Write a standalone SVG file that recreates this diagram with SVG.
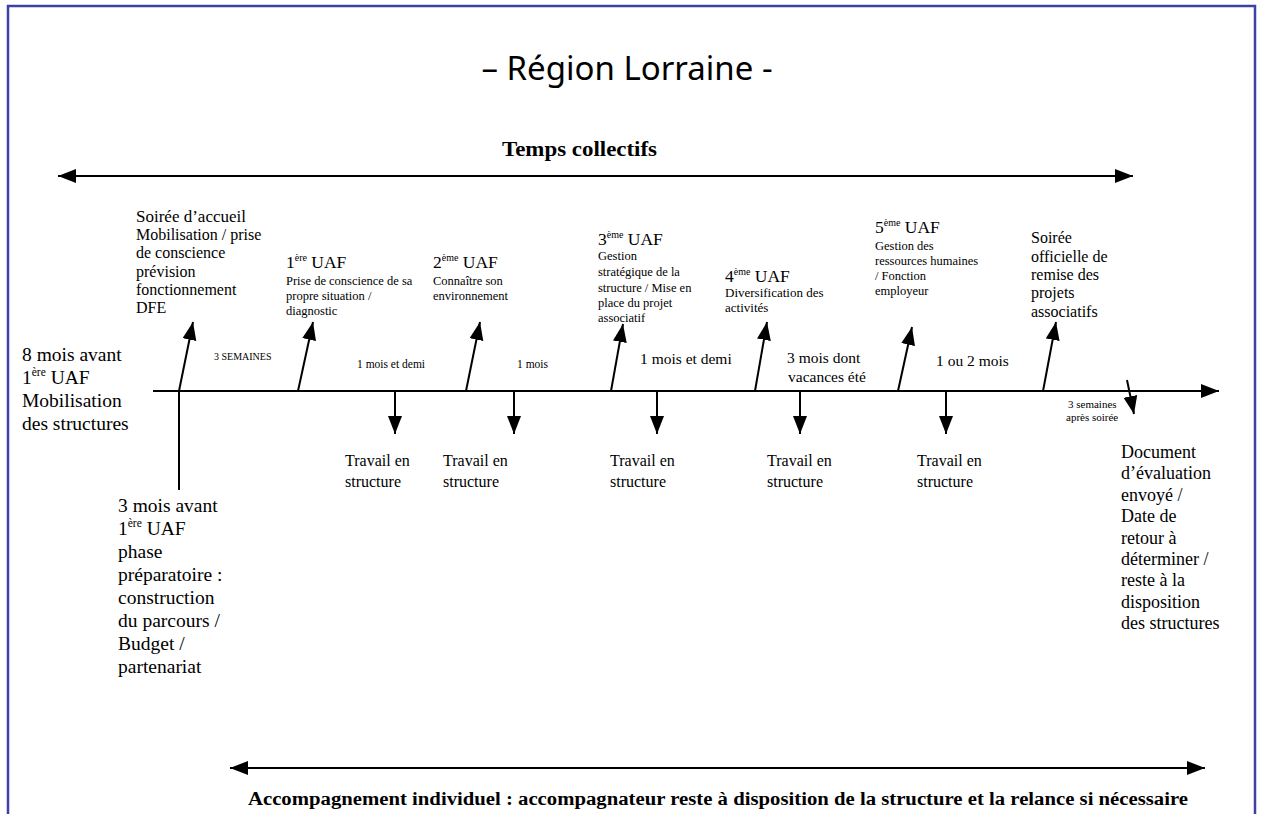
<svg xmlns="http://www.w3.org/2000/svg" width="1261" height="814" viewBox="0 0 1261 814">
<style>
text{font-family:"Liberation Serif","Times New Roman",serif;fill:#000}
.t16{font-size:16px}
.t17{font-size:17px}
.t19{font-size:19.5px}
.t18{font-size:18px}
.s125{font-size:12.5px}
.s13{font-size:13px}
.uaf{font-size:17.5px}
.sm{font-size:11.5px}
.xs{font-size:10px}
.sx{font-size:11px}
.mid{font-size:15.5px}
.b{font-weight:bold}
.ln{stroke:#000;stroke-width:2;fill:none}
</style>
<defs>
<marker id="ah" markerUnits="userSpaceOnUse" markerWidth="20" markerHeight="16" refX="18" refY="7" orient="auto">
<path d="M0,0 L18,7 L0,14 z" fill="#000"/>
</marker>
<marker id="ahs" markerUnits="userSpaceOnUse" markerWidth="20" markerHeight="16" refX="0" refY="7" orient="auto">
<path d="M18,0 L0,7 L18,14 z" fill="#000"/>
</marker>
</defs>
<rect x="8" y="6" width="1247" height="830" fill="#fff" stroke="#3f3fa8" stroke-width="2.5"/>
<text id="title" x="627" y="80" text-anchor="middle" style="font-family:'Noto Sans',sans-serif;font-size:33px">– Région Lorraine -</text>

<g id="connectors">
<line class="ln" x1="58" y1="176" x2="1133" y2="176" marker-start="url(#ahs)" marker-end="url(#ah)"/>
<line class="ln" x1="230" y1="768" x2="1205" y2="768" marker-start="url(#ahs)" marker-end="url(#ah)"/>
<line class="ln" x1="153" y1="391" x2="1219" y2="391" marker-end="url(#ah)"/>
<line class="ln" x1="179" y1="391" x2="179" y2="490"/>
<line class="ln" x1="179" y1="391" x2="193" y2="322" marker-end="url(#ah)"/>
<line class="ln" x1="298" y1="391" x2="313" y2="322" marker-end="url(#ah)"/>
<line class="ln" x1="466" y1="391" x2="480" y2="322" marker-end="url(#ah)"/>
<line class="ln" x1="611" y1="391" x2="623" y2="324" marker-end="url(#ah)"/>
<line class="ln" x1="755" y1="391" x2="767" y2="322" marker-end="url(#ah)"/>
<line class="ln" x1="898" y1="391" x2="912" y2="327" marker-end="url(#ah)"/>
<line class="ln" x1="1043" y1="391" x2="1056" y2="322" marker-end="url(#ah)"/>
<line class="ln" x1="395" y1="391" x2="395" y2="434" marker-end="url(#ah)"/>
<line class="ln" x1="514" y1="391" x2="514" y2="434" marker-end="url(#ah)"/>
<line class="ln" x1="657" y1="391" x2="657" y2="434" marker-end="url(#ah)"/>
<line class="ln" x1="800" y1="391" x2="800" y2="434" marker-end="url(#ah)"/>
<line class="ln" x1="946" y1="391" x2="946" y2="434" marker-end="url(#ah)"/>
<line class="ln" x1="1127" y1="380" x2="1134" y2="414" marker-end="url(#ah)"/>
</g>

<g id="temps-collectifs"><text class="b" font-size="20" x="502" y="156" textLength="155" lengthAdjust="spacingAndGlyphs">Temps collectifs</text></g>
<g id="accompagnement"><text class="b" font-size="18" x="248" y="805" textLength="940" lengthAdjust="spacingAndGlyphs">Accompagnement individuel : accompagnateur reste à disposition de la structure et la relance si nécessaire</text></g>

<g id="n-8mois">
<text class="t19" x="22" y="361">8 mois avant</text>
<text class="t19" x="22" y="384">1<tspan font-size="11.5" dy="-8">ère</tspan><tspan dy="8"> UAF</tspan></text>
<text class="t19" x="22" y="407">Mobilisation</text>
<text class="t19" x="22" y="430">des structures</text>
</g>
<g id="n-3mois">
<text class="t19" x="118" y="512">3 mois avant</text>
<text class="t19" x="118" y="535">1<tspan font-size="11.5" dy="-8">ère</tspan><tspan dy="8"> UAF</tspan></text>
<text class="t19" x="118" y="558">phase</text>
<text class="t19" x="118" y="581">préparatoire :</text>
<text class="t19" x="118" y="604">construction</text>
<text class="t19" x="118" y="627">du parcours /</text>
<text class="t19" x="118" y="650">Budget /</text>
<text class="t19" x="118" y="673">partenariat</text>
</g>
<g id="n-soiree-accueil">
<text class="t17" x="136" y="222">Soirée d’accueil</text>
<text class="t16" x="136" y="240">Mobilisation / prise</text>
<text class="t16" x="136" y="258">de conscience</text>
<text class="t16" x="136" y="277">prévision</text>
<text class="t16" x="136" y="295">fonctionnement</text>
<text class="t16" x="136" y="313">DFE</text>
</g>
<g id="n-uaf1">
<text class="uaf" x="286" y="268">1<tspan font-size="10" dy="-7">ère</tspan><tspan dy="7"> UAF</tspan></text>
<text class="s125" x="286" y="285">Prise de conscience de sa</text>
<text class="s125" x="286" y="300">propre situation /</text>
<text class="s125" x="286" y="315">diagnostic</text>
</g>
<g id="n-uaf2">
<text class="uaf" x="433" y="268">2<tspan font-size="10" dy="-7">ème</tspan><tspan dy="7"> UAF</tspan></text>
<text class="s125" x="433" y="285">Connaître son</text>
<text class="s125" x="433" y="300">environnement</text>
</g>
<g id="n-uaf3">
<text class="uaf" x="598" y="245">3<tspan font-size="10" dy="-7">ème</tspan><tspan dy="7"> UAF</tspan></text>
<text class="s125" x="598" y="260">Gestion</text>
<text class="s125" x="598" y="276">stratégique de la</text>
<text class="s125" x="598" y="292">structure / Mise en</text>
<text class="s125" x="598" y="307">place du projet</text>
<text class="s125" x="598" y="322">associatif</text>
</g>
<g id="n-uaf4">
<text class="uaf" x="725" y="282">4<tspan font-size="10" dy="-7">ème</tspan><tspan dy="7"> UAF</tspan></text>
<text class="s13" x="725" y="297">Diversification des</text>
<text class="s13" x="725" y="312">activités</text>
</g>
<g id="n-uaf5">
<text class="uaf" x="875" y="233">5<tspan font-size="10" dy="-7">ème</tspan><tspan dy="7"> UAF</tspan></text>
<text class="s125" x="875" y="250">Gestion des</text>
<text class="s125" x="875" y="265">ressources humaines</text>
<text class="s125" x="875" y="280">/ Fonction</text>
<text class="s125" x="875" y="295">employeur</text>
</g>
<g id="n-soiree-officielle">
<text class="t16" x="1031" y="243">Soirée</text>
<text class="t16" x="1031" y="262">officielle de</text>
<text class="t16" x="1031" y="280">remise des</text>
<text class="t16" x="1031" y="298">projets</text>
<text class="t16" x="1031" y="317">associatifs</text>
</g>
<g id="n-document">
<text class="t18" x="1121" y="458">Document</text>
<text class="t18" x="1121" y="479">d’évaluation</text>
<text class="t18" x="1121" y="501">envoyé /</text>
<text class="t18" x="1121" y="522">Date de</text>
<text class="t18" x="1121" y="544">retour à</text>
<text class="t18" x="1121" y="565">déterminer /</text>
<text class="t18" x="1121" y="586">reste à la</text>
<text class="t18" x="1121" y="608">disposition</text>
<text class="t18" x="1121" y="629">des structures</text>
</g>
<g id="durations">
<text class="xs" x="214" y="360">3 SEMAINES</text>
<text class="sm" x="357" y="368">1 mois et demi</text>
<text class="sm" x="517" y="368">1 mois</text>
<text class="mid" x="640" y="364">1 mois et demi</text>
<text class="mid" x="787" y="363">3 mois dont</text>
<text class="mid" x="788" y="382">vacances été</text>
<text class="mid" x="936" y="366">1 ou 2 mois</text>
<text class="sx" x="1068" y="408">3 semaines</text>
<text class="sx" x="1066" y="421">après soirée</text>
</g>
<g id="travail">
<text class="t16" x="345" y="466">Travail en</text><text class="t16" x="345" y="487">structure</text>
<text class="t16" x="443" y="466">Travail en</text><text class="t16" x="443" y="487">structure</text>
<text class="t16" x="610" y="466">Travail en</text><text class="t16" x="610" y="487">structure</text>
<text class="t16" x="767" y="466">Travail en</text><text class="t16" x="767" y="487">structure</text>
<text class="t16" x="917" y="466">Travail en</text><text class="t16" x="917" y="487">structure</text>
</g>
</svg>
